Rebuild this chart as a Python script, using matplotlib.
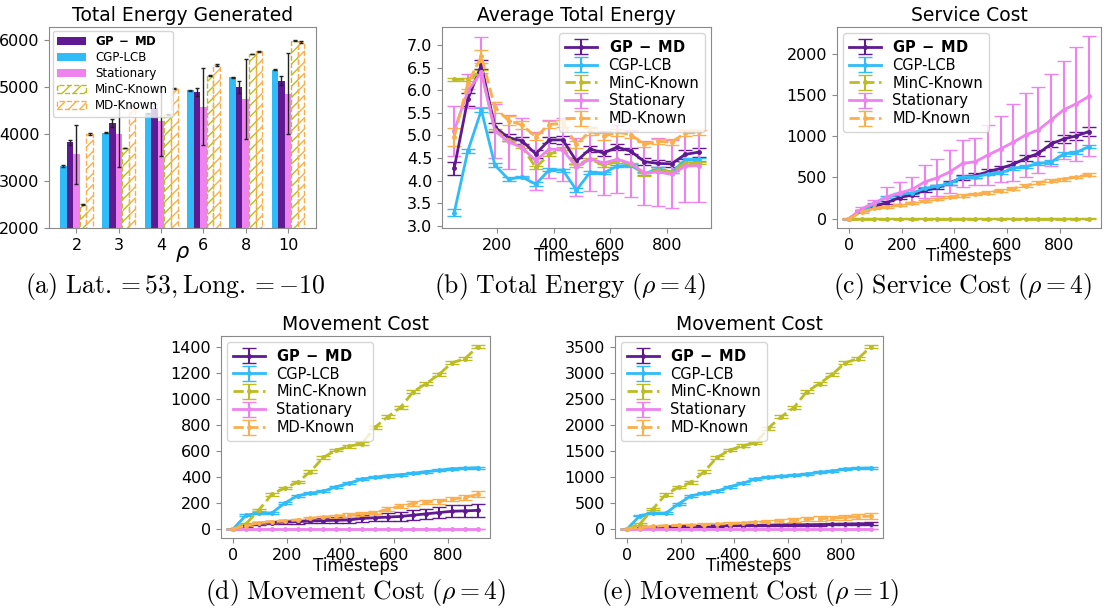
import numpy as np
import matplotlib.pyplot as plt
from matplotlib.patches import Patch

# ---- colours
c_gp = '#5f1a91'
c_cgp = '#2fbcf8'
c_minc = '#bcbd22'
c_stat = '#ee82ee'
c_md = '#fbae4c'

# ---- (a) total energy generated, bars per rho
rho_labels = ['2', '3', '4', '6', '8', '10']
bar_cgp = [3314, 4025, 4437, 4930, 5199, 5360]
bar_gp = [3819, 4224, 4544, 4890, 4992, 5133]
bar_stat = [3563, 3998, 4274, 4580, 4743, 4850]
bar_minc = [2504, 3698, 4416, 5237, 5695, 5982]
bar_md = [3996, 4607, 4970, 5462, 5751, 5955]
err_cgp = [15, 12, 12, 10, 10, 10]
err_gp = [60, 85, 100, 80, 130, 100]
err_stat = [635, 700, 750, 820, 845, 860]
err_minc = [8, 8, 8, 8, 8, 8]
err_md = [15, 15, 15, 20, 20, 15]

# ---- time axis
steps_b = [48, 96, 144, 192, 240, 288, 336, 384, 432, 480, 528, 576, 624, 672,
           720, 768, 816, 864, 912]
steps = [0, 48, 96, 144, 192, 240, 288, 336, 384, 432, 480, 528, 576, 624, 672,
         720, 768, 816, 864, 912]

# ---- (b) average total energy
gp_b = [4.27, 5.80, 6.56, 5.18, 4.95, 4.88, 4.59, 4.90, 4.90, 4.43, 4.70, 4.61,
        4.74, 4.65, 4.42, 4.38, 4.37, 4.58, 4.63]
cgp_b = [3.29, 4.65, 5.56, 4.34, 4.03, 4.08, 3.92, 4.24, 4.23, 3.79, 4.18, 4.17,
         4.32, 4.34, 4.15, 4.26, 4.19, 4.45, 4.47]
minc_b = [6.24, 6.24, 6.41, 5.12, 4.90, 4.75, 4.29, 4.58, 4.71, 4.34, 4.48, 4.34,
          4.43, 4.36, 4.14, 4.23, 4.19, 4.39, 4.39]
stat_b = [5.10, 5.98, 6.40, 5.10, 4.86, 4.73, 4.44, 4.70, 4.68, 4.30, 4.48, 4.39,
          4.47, 4.38, 4.17, 4.19, 4.14, 4.32, 4.33]
md_b = [4.97, 6.15, 6.75, 5.62, 5.33, 5.23, 4.97, 5.24, 5.27, 4.80, 5.09, 4.98,
        5.07, 5.02, 4.80, 4.87, 4.85, 5.05, 5.07]
gp_b_err = [0.15, 0.15, 0.10, 0.10, 0.08, 0.08, 0.08, 0.07, 0.08, 0.07, 0.07, 0.07,
            0.07, 0.07, 0.07, 0.07, 0.07, 0.10, 0.10]
cgp_b_err = [0.08, 0.05, 0.04, 0.04, 0.04, 0.03, 0.04, 0.03, 0.03, 0.04, 0.03, 0.03,
             0.03, 0.03, 0.03, 0.03, 0.03, 0.04, 0.04]
minc_b_err = [0.03] * 19
stat_b_err = [0.55, 0.38, 0.78, 0.60, 0.60, 0.65, 0.64, 0.65, 0.70, 0.65, 0.70, 0.70,
              0.75, 0.75, 0.70, 0.75, 0.75, 0.80, 0.80]
md_b_err = [0.20, 0.12, 0.15, 0.12, 0.10, 0.08, 0.08, 0.08, 0.08, 0.08, 0.08, 0.08,
            0.08, 0.08, 0.06, 0.06, 0.06, 0.06, 0.06]

# ---- (c) service cost
gp_c = [0, 100, 150, 195, 256, 290, 345, 378, 435, 500, 520, 569, 610, 660, 732,
        793, 906, 967, 1004, 1057]
cgp_c = [0, 95, 175, 264, 293, 313, 366, 394, 427, 508, 508, 540, 557, 610, 630,
         670, 687, 785, 805, 874]
minc_c = [0] * 20
stat_c = [0, 120, 190, 264, 313, 354, 447, 496, 569, 670, 691, 772, 846, 927, 1016,
          1077, 1199, 1321, 1394, 1484]
md_c = [0, 80, 125, 145, 165, 190, 215, 240, 262, 280, 297, 315, 340, 365, 400,
        437, 460, 480, 505, 535]
gp_c_err = [0, 10, 12, 15, 18, 20, 22, 24, 25, 28, 30, 30, 32, 35, 35, 38, 40, 45,
            50, 50]
cgp_c_err = [0, 8, 10, 10, 12, 12, 14, 14, 15, 15, 16, 16, 17, 18, 18, 18, 20, 20,
             20, 20]
minc_c_err = [3] * 20
stat_c_err = [0, 20, 40, 115, 130, 155, 200, 225, 260, 290, 285, 365, 400, 470, 510,
              520, 555, 595, 690, 730]
md_c_err = [0, 8, 10, 10, 12, 12, 12, 14, 14, 14, 15, 15, 15, 16, 16, 16, 18, 18,
            18, 20]

# ---- (d) movement cost rho = 4
gp_d = [0, 25, 40, 48, 52, 55, 60, 63, 66, 68, 80, 85, 90, 95, 105, 115, 125, 135,
        138, 142]
cgp_d = [0, 105, 120, 122, 197, 255, 273, 289, 324, 350, 383, 396, 409, 416, 427,
         440, 450, 462, 465, 470]
minc_d = [0, 38, 146, 265, 314, 358, 440, 549, 605, 635, 655, 779, 861, 933, 1055,
          1117, 1188, 1277, 1308, 1400]
stat_d = [0] * 20
md_d = [0, 25, 45, 55, 60, 68, 80, 90, 97, 105, 115, 125, 150, 175, 195, 205, 210,
        230, 240, 265]
gp_d_err = [0, 8, 10, 12, 14, 15, 18, 20, 22, 24, 26, 28, 30, 33, 36, 40, 44, 46,
            48, 50]
cgp_d_err = [0, 6, 6, 6, 7, 7, 7, 7, 8, 8, 8, 8, 8, 8, 8, 8, 8, 8, 8, 8]
minc_d_err = [0, 8, 8, 9, 9, 9, 10, 10, 10, 10, 10, 11, 11, 11, 12, 12, 12, 12, 12, 12]
stat_d_err = [0] * 20
md_d_err = [0, 6, 8, 8, 10, 10, 12, 12, 12, 14, 14, 14, 15, 16, 16, 17, 18, 18, 20, 22]

# ---- (e) movement cost rho = 1
gp_e = [0, 15, 30, 35, 40, 45, 50, 55, 60, 62, 65, 68, 72, 75, 78, 82, 85, 90, 95,
        100]
cgp_e = [0, 255, 300, 300, 479, 638, 683, 722, 811, 875, 958, 990, 1009, 1028, 1054,
         1086, 1111, 1150, 1162, 1169]
minc_e = [0, 96, 383, 658, 798, 894, 1098, 1373, 1513, 1597, 1648, 1935, 2152, 2331,
          2637, 2791, 2969, 3193, 3270, 3500]
stat_e = [0] * 20
md_e = [0, 25, 45, 60, 65, 70, 80, 90, 100, 110, 125, 135, 150, 165, 185, 195, 205,
        220, 230, 245]
gp_e_err = [0, 8, 10, 10, 12, 12, 14, 14, 15, 15, 16, 16, 17, 18, 18, 19, 20, 21,
            22, 24]
cgp_e_err = [0, 15, 15, 15, 18, 18, 18, 20, 20, 20, 20, 20, 20, 20, 20, 20, 20, 20,
             20, 20]
minc_e_err = [0, 20, 20, 22, 22, 24, 24, 25, 25, 26, 26, 28, 28, 28, 30, 30, 30, 30,
              30, 30]
stat_e_err = [0] * 20
md_e_err = [0, 12, 15, 18, 20, 22, 24, 26, 28, 30, 32, 34, 36, 38, 40, 42, 44, 46,
            48, 50]

gp_label = r'$\mathbf{GP\;-\;MD}$'
spine_col = '#8a8a8a'
TICK = 11.5
LEG = 10.5
TITLE = 13.5


def style_axes(ax):
    for s in ax.spines.values():
        s.set_color(spine_col)
    ax.tick_params(labelsize=TICK, color=spine_col)


def line_panel(ax, x, series, title, legend_loc):
    for y, err, col, ls, lab in series:
        ax.errorbar(x, y, yerr=err, color=col, ls=ls, lw=2, marker='.', ms=5,
                    capsize=5, elinewidth=1.5, ecolor=col, label=lab)
    ax.set_title(title, fontsize=TITLE, pad=4)
    ax.set_xlabel('Timesteps', fontsize=12, labelpad=-4)
    ax.set_xticks([200, 400, 600, 800] if x[0] > 0 else [0, 200, 400, 600, 800])
    style_axes(ax)
    ax.legend(loc=legend_loc, fontsize=LEG, handlelength=2.2,
              borderaxespad=0.4, labelspacing=0.2)


fig = plt.figure(figsize=(11.06, 6.09), dpi=100)

# (a)
axa = fig.add_axes([0.0443, 0.6256, 0.2414, 0.330])
xpos = np.arange(len(rho_labels))
w = 0.155
ekw = dict(ecolor='#222222', capsize=1.5, error_kw=dict(elinewidth=1))
axa.bar(xpos - 2 * w, bar_cgp, w, color=c_cgp, yerr=err_cgp, **ekw)
axa.bar(xpos - w, bar_gp, w, color=c_gp, yerr=err_gp, **ekw)
axa.bar(xpos, bar_stat, w, color=c_stat, yerr=err_stat, **ekw)
axa.bar(xpos + w, bar_minc, w, fill=False, edgecolor=c_minc, hatch='///', ls='--',
        lw=1, yerr=err_minc, **ekw)
axa.bar(xpos + 2 * w, bar_md, w, fill=False, edgecolor=c_md, hatch='///', ls='--',
        lw=1, yerr=err_md, **ekw)
handles = [Patch(facecolor=c_gp, label=gp_label),
           Patch(facecolor=c_cgp, label='CGP-LCB'),
           Patch(facecolor=c_stat, label='Stationary'),
           Patch(fill=False, edgecolor=c_minc, hatch='///', ls='--', label='MinC-Known'),
           Patch(fill=False, edgecolor=c_md, hatch='///', ls='--', label='MD-Known')]
axa.legend(handles=handles, loc='upper left', fontsize=8.5, labelspacing=0.25,
           handlelength=2.4, borderaxespad=0.3)
axa.set_xticks(xpos)
axa.set_xticklabels(rho_labels)
axa.set_xlim(-0.65, 5.66)
axa.set_ylim(2000, 6270)
axa.set_yticks([2000, 3000, 4000, 5000, 6000])
axa.set_xlabel(r'$\rho$', fontsize=15, labelpad=-6)
axa.set_title('Total Energy Generated', fontsize=TITLE, pad=4)
style_axes(axa)

# (b)
axb = fig.add_axes([0.3996, 0.6256, 0.2432, 0.330])
line_panel(axb, steps_b, [
    (gp_b, gp_b_err, c_gp, '-', gp_label),
    (cgp_b, cgp_b_err, c_cgp, '-', 'CGP-LCB'),
    (minc_b, minc_b_err, c_minc, '--', 'MinC-Known'),
    (stat_b, stat_b_err, c_stat, '-', 'Stationary'),
    (md_b, md_b_err, c_md, '--', 'MD-Known')], 'Average Total Energy', 'upper right')
axb.set_ylim(2.95, 7.4)
axb.set_yticks([3.0, 3.5, 4.0, 4.5, 5.0, 5.5, 6.0, 6.5, 7.0])

# (c)
axc = fig.add_axes([0.7568, 0.6256, 0.2387, 0.330])
line_panel(axc, steps, [
    (gp_c, gp_c_err, c_gp, '-', gp_label),
    (cgp_c, cgp_c_err, c_cgp, '-', 'CGP-LCB'),
    (minc_c, minc_c_err, c_minc, '--', 'MinC-Known'),
    (stat_c, stat_c_err, c_stat, '-', 'Stationary'),
    (md_c, md_c_err, c_md, '--', 'MD-Known')], 'Service Cost', 'upper left')

# (d)
axd = fig.add_axes([0.1998, 0.1166, 0.2432, 0.3317])
line_panel(axd, steps, [
    (gp_d, gp_d_err, c_gp, '-', gp_label),
    (cgp_d, cgp_d_err, c_cgp, '-', 'CGP-LCB'),
    (minc_d, minc_d_err, c_minc, '--', 'MinC-Known'),
    (stat_d, stat_d_err, c_stat, '-', 'Stationary'),
    (md_d, md_d_err, c_md, '--', 'MD-Known')], 'Movement Cost', 'upper left')
axd.set_yticks([0, 200, 400, 600, 800, 1000, 1200, 1400])

# (e)
axe = fig.add_axes([0.5561, 0.1166, 0.2423, 0.3317])
line_panel(axe, steps, [
    (gp_e, gp_e_err, c_gp, '-', gp_label),
    (cgp_e, cgp_e_err, c_cgp, '-', 'CGP-LCB'),
    (minc_e, minc_e_err, c_minc, '--', 'MinC-Known'),
    (stat_e, stat_e_err, c_stat, '-', 'Stationary'),
    (md_e, md_e_err, c_md, '--', 'MD-Known')], 'Movement Cost', 'upper left')
axe.set_yticks([0, 500, 1000, 1500, 2000, 2500, 3000, 3500])

# captions
cap = dict(fontsize=18.5, math_fontfamily='cm', ha='center', va='center')
fig.text(175 / 1106, 1 - 286 / 609,
         r'$\mathrm{(a)\ Lat.}=53,\mathrm{Long.}=-10$', **cap)
fig.text(570 / 1106, 1 - 286 / 609, r'$\mathrm{(b)\ Total\ Energy\ }(\rho=4)$', **cap)
fig.text(963 / 1106, 1 - 286 / 609, r'$\mathrm{(c)\ Service\ Cost\ }(\rho=4)$', **cap)
fig.text(356 / 1106, 1 - 593 / 609, r'$\mathrm{(d)\ Movement\ Cost\ }(\rho=4)$', **cap)
fig.text(750 / 1106, 1 - 593 / 609, r'$\mathrm{(e)\ Movement\ Cost\ }(\rho=1)$', **cap)

fig.savefig('out.png', dpi=100)
